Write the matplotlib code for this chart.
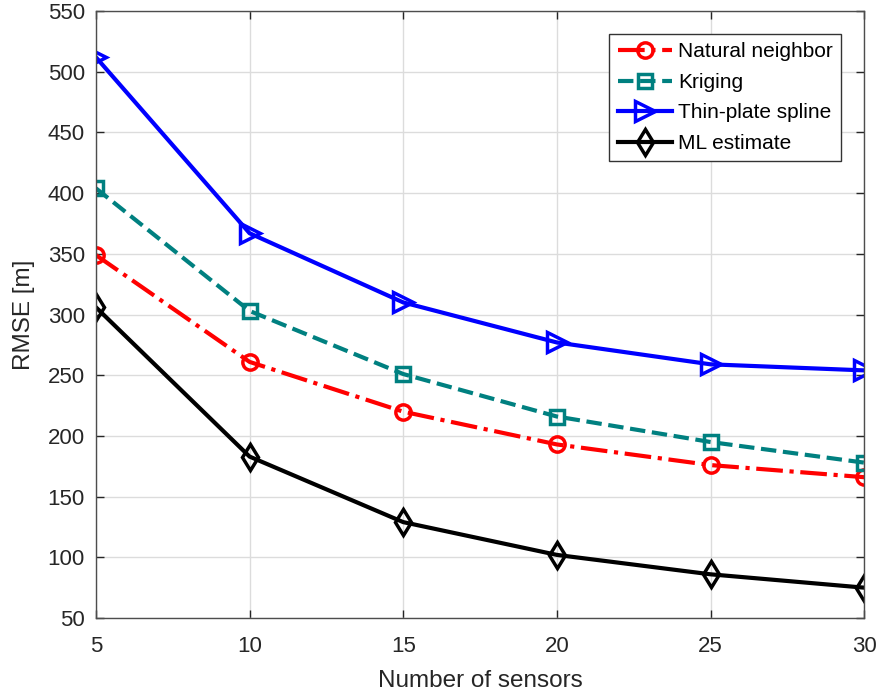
import matplotlib
matplotlib.use("Agg")
import matplotlib.pyplot as plt

plt.rcParams['font.family'] = ['Liberation Sans', 'DejaVu Sans']

sensors = [5, 10, 15, 20, 25, 30]
natural = [349, 261, 220, 193, 176, 166]
kriging = [404, 303, 251, 216, 195, 178]
thinplate = [512, 367, 310, 277, 259, 254]
ml = [306, 183, 129, 102, 86, 75]
xticks = [5, 10, 15, 20, 25, 30]
yticks = [50, 100, 150, 200, 250, 300, 350, 400, 450, 500, 550]

fig = plt.figure(figsize=(8.8, 6.98), dpi=100)
ax = fig.add_axes([0.109, 0.1146, 0.873, 0.8695])

lw = 3.0
ax.plot(sensors, natural, color='red', linestyle='-.', lw=lw, marker='o',
        ms=11, mfc='none', mew=2.5, label='Natural neighbor')
ax.plot(sensors, kriging, color=(0, 0.5, 0.5), linestyle='--', lw=lw, marker='s',
        ms=10, mfc='none', mew=2.5, label='Kriging')
ax.plot(sensors, thinplate, color='blue', linestyle='-', lw=lw, marker='>',
        ms=14, mfc='none', mew=2.5, label='Thin-plate spline')
ax.plot(sensors, ml, color='black', linestyle='-', lw=lw, marker='d',
        ms=13.5, mfc='none', mew=2.5, label='ML estimate')

ax.set_xlim(5, 30)
ax.set_ylim(50, 550)
ax.set_xticks(xticks)
ax.set_yticks(yticks)
ax.grid(True, color='#dcdcdc', lw=1)
ax.set_axisbelow(True)
for s in ax.spines.values():
    s.set_color('#4d4d4d')
    s.set_linewidth(1.0)
ax.tick_params(direction='in', top=True, right=True, length=6, width=1,
               colors='#262626', labelsize=16)
ax.tick_params(axis='x', pad=13)
ax.tick_params(axis='y', pad=8)
ax.set_xlabel('Number of sensors', fontsize=17.5, color='#262626', labelpad=9)
ax.set_ylabel('RMSE [m]', fontsize=17.5, color='#262626', labelpad=9)

leg = ax.legend(loc='upper right', bbox_to_anchor=(0.970, 0.962), fontsize=15,
                fancybox=False, framealpha=1, edgecolor='#333333',
                handlelength=2.6, borderpad=0.4, labelspacing=0.55, handletextpad=0.3,
                borderaxespad=0)
leg.get_frame().set_linewidth(1.0)

fig.savefig('out.png', dpi=100)
